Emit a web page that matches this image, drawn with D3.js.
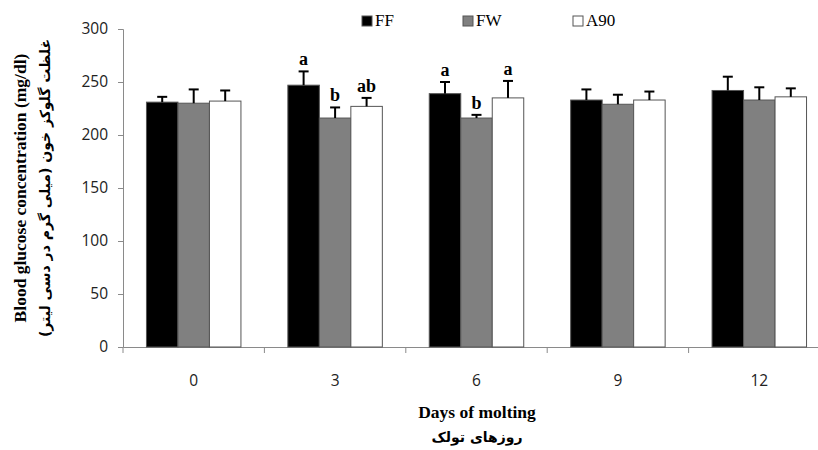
<!DOCTYPE html>
<html lang="en">
<head>
<meta charset="utf-8">
<title>blood glucose</title>
<script src="https://d3js.org/d3.v7.min.js"></script>
<style>
  body{margin:0;background:#fff;}
  svg{display:block;}
</style>
</head>
<body>
<div id="chart1"></div>
<script>
// data
var days = ["0","3","6","9","12"]
var groups = ["FF","FW","A90"]
var ffVals = [231, 247, 239, 233, 242]
var fwVals = [230, 216, 216, 229, 233]
var a90Vals = [232, 227, 235, 233, 236]
var ffErr = [5, 13, 11, 10, 13]
var fwErr = [13, 10, 3, 9, 12]
var a90Err = [10, 8, 16, 8, 8]
var ffLetters = ["", "a", "a", "", ""]
var fwLetters = ["", "b", "b", "", ""]
var a90Letters = ["", "ab", "a", "", ""]
var yTicks = [0, 50, 100, 150, 200, 250, 300]

var colors = {FF:"#000000", FW:"#808080", A90:"#ffffff"}

var w = 818, h = 450
var mLeft = 123, mTop = 29, mRight = 830, mBottom = 347

var svg = d3.select("#chart1").append("svg").attr("width", w).attr("height", h)

var xScale = d3.scaleBand().domain(days).range([mLeft, mRight]).paddingInner(0).paddingOuter(0)
var xInner = d3.scaleBand().domain(groups).range([0, xScale.bandwidth()]).paddingOuter(0.745)
var yScale = d3.scaleLinear().domain([0, 300]).range([mBottom, mTop])

var rows = []
days.forEach(function(d, i){
    rows.push({day:d, g:"FF", v:ffVals[i], e:ffErr[i], l:ffLetters[i]})
    rows.push({day:d, g:"FW", v:fwVals[i], e:fwErr[i], l:fwLetters[i]})
    rows.push({day:d, g:"A90", v:a90Vals[i], e:a90Err[i], l:a90Letters[i]})
})

// y axis
var yAxis = svg.append("g").attr("transform", "translate(" + mLeft + ",0)")
    .call(d3.axisLeft(yScale).tickValues(yTicks).tickSize(5).tickPadding(10))
yAxis.select(".domain").attr("stroke", "#8a8a8a")
yAxis.selectAll(".tick line").attr("stroke", "#8a8a8a")
yAxis.selectAll("text").attr("font-family", "'Open Sans', sans-serif").attr("font-size", 15.5).attr("fill", "#222")

// x axis
var xAxis = svg.append("g").attr("transform", "translate(0," + mBottom + ")")
    .call(d3.axisBottom(xScale).tickSize(0).tickPadding(28))
xAxis.select(".domain").attr("stroke", "#8a8a8a")
xAxis.selectAll("text").attr("font-family", "'Open Sans', sans-serif").attr("font-size", 15.5).attr("fill", "#222")
svg.append("g").selectAll("line")
    .data(days)
    .enter()
    .append("line")
    .attr("x1", function(d){ return xScale(d) })
    .attr("x2", function(d){ return xScale(d) })
    .attr("y1", mBottom)
    .attr("y2", mBottom + 6)
    .attr("stroke", "#8a8a8a")

// bars
svg.append("g").selectAll("rect")
    .data(rows)
    .enter()
    .append("rect")
    .attr("x", function(d){ return xScale(d.day) + xInner(d.g) })
    .attr("y", function(d){ return yScale(d.v) })
    .attr("width", xInner.bandwidth())
    .attr("height", function(d){ return yScale(0) - yScale(d.v) })
    .attr("fill", function(d){ return colors[d.g] })
    .attr("stroke", "#555")
    .attr("stroke-width", 1)

// error bars
var eb = svg.append("g").attr("stroke", "#000").attr("stroke-width", 2)
rows.forEach(function(d){
    var cx = xScale(d.day) + xInner(d.g) + xInner.bandwidth() / 2
    eb.append("line").attr("x1", cx).attr("x2", cx).attr("y1", yScale(d.v)).attr("y2", yScale(d.v + d.e))
    eb.append("line").attr("x1", cx - 5).attr("x2", cx + 5).attr("y1", yScale(d.v + d.e)).attr("y2", yScale(d.v + d.e))
})

// letters
svg.append("g").selectAll("text")
    .data(rows.filter(function(d){ return d.l }))
    .enter()
    .append("text")
    .attr("x", function(d){ return xScale(d.day) + xInner(d.g) + xInner.bandwidth() / 2 })
    .attr("y", function(d){ return yScale(d.v + d.e) - 6 })
    .attr("text-anchor", "middle")
    .attr("font-family", "'Liberation Serif', serif")
    .attr("font-weight", "bold")
    .attr("font-size", 18)
    .text(function(d){ return d.l })

// legend
var legX = [362, 463, 573]
var leg = svg.append("g").selectAll("g")
    .data(groups)
    .enter()
    .append("g")
    .attr("transform", function(d, i){ return "translate(" + legX[i] + ",16)" })
leg.append("rect").attr("width", 10).attr("height", 10)
    .attr("fill", function(d){ return colors[d] }).attr("stroke", "#555")
leg.append("text").attr("x", 13).attr("y", 10)
    .attr("font-family", "'Liberation Serif', serif").attr("font-size", 17)
    .text(function(d){ return d })

// axis titles
var yt = svg.append("g").attr("transform", "translate(20,188) rotate(-90)")
yt.append("text").attr("text-anchor", "middle").attr("y", 6)
    .attr("font-family", "'Liberation Serif', serif").attr("font-weight", "bold").attr("font-size", 17.5)
    .text("Blood glucose concentration (mg/dl)")
yt.append("text").attr("text-anchor", "middle").attr("y", 30)
    .attr("font-family", "'DejaVu Sans', sans-serif").attr("font-weight", "bold").attr("font-size", 14)
    .attr("direction", "rtl")
    .text("غلظت گلوکز خون (میلی گرم در دسی لیتر)")

svg.append("text").attr("x", 477).attr("y", 418).attr("text-anchor", "middle")
    .attr("font-family", "'Liberation Serif', serif").attr("font-weight", "bold").attr("font-size", 17.5)
    .text("Days of molting")
svg.append("text").attr("x", 477).attr("y", 442).attr("text-anchor", "middle")
    .attr("font-family", "'DejaVu Sans', sans-serif").attr("font-weight", "bold").attr("font-size", 14)
    .attr("direction", "rtl")
    .text("روزهای تولک")
</script>
</body>
</html>
